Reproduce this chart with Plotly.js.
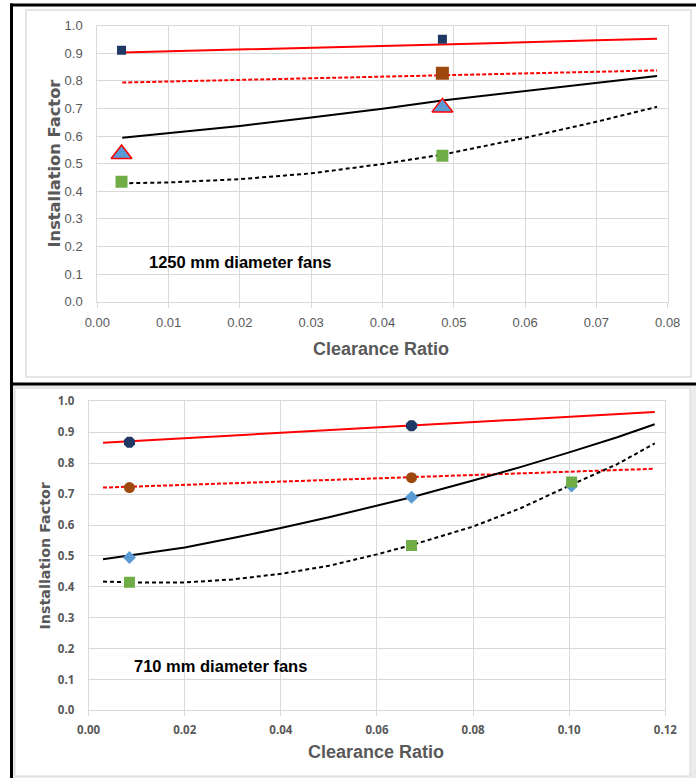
<!DOCTYPE html>
<html>
<head>
<meta charset="utf-8">
<script src="https://cdn.plot.ly/plotly-3.0.1.min.js"></script>
<style>
  html, body { margin: 0; padding: 0; background: #ffffff; }
  #chart { width: 696px; height: 778px; }
</style>
</head>
<body>
<div id="chart"></div>
<script>
// ---------------- DATA: 1250 mm diameter fans (top panel) ----------------
const topFitX        = [0.0035, 0.01, 0.02, 0.03, 0.04, 0.0484, 0.06, 0.07, 0.0785];
const topRedSolid    = [0.903, 0.907, 0.914, 0.920, 0.927, 0.933, 0.940, 0.947, 0.953];
const topRedDashed   = [0.794, 0.798, 0.804, 0.810, 0.816, 0.821, 0.827, 0.833, 0.838];
const topBlackSolid  = [0.594, 0.611, 0.637, 0.667, 0.699, 0.729, 0.763, 0.793, 0.818];
const topBlackDashed = [0.429, 0.432, 0.444, 0.465, 0.499, 0.533, 0.594, 0.652, 0.706];

const topNavyX  = [0.0034, 0.0484];  const topNavyY  = [0.911, 0.951];
const topBrownX = [0.0484];          const topBrownY = [0.8275];
const topBlueX  = [0.0034, 0.0484];  const topBlueY  = [0.535, 0.704];
const topGreenX = [0.0034, 0.0484];  const topGreenY = [0.435, 0.529];

// ---------------- DATA: 710 mm diameter fans (bottom panel) ----------------
const botFitX        = [0.003, 0.01, 0.02, 0.03, 0.04, 0.05, 0.06, 0.0672, 0.08, 0.09, 0.10, 0.11, 0.1178];
const botRedSolid    = [0.866, 0.872, 0.881, 0.889, 0.898, 0.907, 0.915, 0.922, 0.933, 0.941, 0.950, 0.959, 0.966];
const botRedDashed   = [0.721, 0.725, 0.730, 0.735, 0.741, 0.746, 0.751, 0.755, 0.762, 0.767, 0.772, 0.778, 0.782];
const botBlackSolid  = [0.489, 0.504, 0.527, 0.558, 0.590, 0.625, 0.663, 0.690, 0.744, 0.788, 0.835, 0.884, 0.926];
const botBlackDashed = [0.417, 0.414, 0.414, 0.424, 0.442, 0.468, 0.505, 0.535, 0.595, 0.655, 0.727, 0.797, 0.864];

const botNavyX  = [0.0085, 0.0672];          const botNavyY  = [0.868, 0.921];
const botBrownX = [0.0085, 0.0672];          const botBrownY = [0.721, 0.753];
const botBlueX  = [0.0085, 0.0672, 0.1005];  const botBlueY  = [0.495, 0.690, 0.726];
const botGreenX = [0.0085, 0.0672, 0.1005];  const botGreenY = [0.4145, 0.534, 0.739];

const topXTicks = [0, 0.01, 0.02, 0.03, 0.04, 0.05, 0.06, 0.07, 0.08];
const botXTicks = [0, 0.02, 0.04, 0.06, 0.08, 0.10, 0.12];
const yTicks    = [0, 0.1, 0.2, 0.3, 0.4, 0.5, 0.6, 0.7, 0.8, 0.9, 1.0];

const topLabel = '1250 mm diameter fans';
const botLabel = '710 mm diameter fans';
const xTitle = 'Clearance Ratio';
const yTitle = 'Installation Factor';

// ---------------- LAYOUT HELPERS ----------------
const W = 696, H = 778;
const px = v => v / W;
const py = v => 1 - v / H;

const NAVY = '#203864', BROWN = '#9e480e', BLUE = '#5b9bd5', GREEN = '#70ad47';
const GRID = '#d9d9d9', TXT = '#595959';
const SANS = '"Liberation Sans", Arial, sans-serif';

function line(x, y, color, dash, xa, ya) {
  return {x: x, y: y, xaxis: xa, yaxis: ya, mode: 'lines', type: 'scatter',
          line: {color: color, width: 2, dash: dash}, hoverinfo: 'skip', showlegend: false};
}
function pts(x, y, symbol, size, color, lineColor, lineWidth, xa, ya) {
  return {x: x, y: y, xaxis: xa, yaxis: ya, mode: 'markers', type: 'scatter',
          marker: {symbol: symbol, size: size, color: color,
                   line: {color: lineColor || color, width: lineWidth || 0}},
          showlegend: false};
}

const data = [
  line(topFitX, topRedSolid, '#ff0000', 'solid', 'x', 'y'),
  line(topFitX, topRedDashed, '#ff0000', '4px,2px', 'x', 'y'),
  line(topFitX, topBlackSolid, '#000000', 'solid', 'x', 'y'),
  line(topFitX, topBlackDashed, '#000000', '4px,3px', 'x', 'y'),
  pts(topNavyX, topNavyY, 'square', 9, NAVY, null, 0, 'x', 'y'),
  pts(topBrownX, topBrownY, 'square', 13, BROWN, BROWN, 0, 'x', 'y'),
  pts(topBlueX, topBlueY, 'triangle-up', 18, BLUE, '#ff0000', 1.5, 'x', 'y'),
  pts(topGreenX, topGreenY, 'square', 12, GREEN, null, 0, 'x', 'y'),

  line(botFitX, botRedSolid, '#ff0000', 'solid', 'x2', 'y2'),
  line(botFitX, botRedDashed, '#ff0000', '4px,2px', 'x2', 'y2'),
  line(botFitX, botBlackSolid, '#000000', 'solid', 'x2', 'y2'),
  line(botFitX, botBlackDashed, '#000000', '4px,3px', 'x2', 'y2'),
  pts(botNavyX, botNavyY, 'octagon', 12, NAVY, null, 0, 'x2', 'y2'),
  pts(botBrownX, botBrownY, 'circle', 11, BROWN, null, 0, 'x2', 'y2'),
  pts(botBlueX, botBlueY, 'diamond', 10, BLUE, null, 0, 'x2', 'y2'),
  pts(botGreenX, botGreenY, 'square', 11, GREEN, null, 0, 'x2', 'y2')
];

function xAxis(domain, range, ticks, font, anchor, standoff) {
  return {domain: domain, range: range, anchor: anchor, tickvals: ticks, tickformat: '.2f',
          showgrid: true, gridcolor: GRID, gridwidth: 1, zeroline: false,
          showline: true, linecolor: GRID, linewidth: 1, mirror: true,
          ticks: 'outside', ticklen: 5, tickcolor: GRID, tickwidth: 1,
          ticklabelstandoff: standoff, tickfont: font, fixedrange: true};
}
function yAxis(domain, font, anchor) {
  return {domain: domain, range: [0, 1], anchor: anchor, tickvals: yTicks, tickformat: '.1f',
          showgrid: true, gridcolor: GRID, gridwidth: 1, zeroline: false,
          showline: true, linecolor: GRID, linewidth: 1, mirror: true,
          ticks: '', ticklabelstandoff: 11, tickfont: font, fixedrange: true};
}

const topTickFont = {family: SANS, size: 13, color: TXT};
const botTickFont = {family: '"Open Sans", sans-serif', size: 11.5, color: TXT, weight: 'bold'};

const layout = {
  width: W, height: H,
  margin: {l: 0, r: 0, t: 0, b: 0, pad: 0},
  paper_bgcolor: '#ffffff', plot_bgcolor: 'rgba(0,0,0,0)',
  showlegend: false,
  xaxis:  xAxis([px(97.3), px(667.7)], [0, 0.08], topXTicks, topTickFont, 'y', 4),
  yaxis:  yAxis([py(301.7), py(25.7)], topTickFont, 'x'),
  xaxis2: xAxis([px(88.6), px(665.3)], [0, 0.12], botXTicks, botTickFont, 'y2', 4),
  yaxis2: yAxis([py(710.4), py(401.4)], botTickFont, 'x2'),
  shapes: [
    {type: 'rect', xref: 'paper', yref: 'paper', x0: px(11), x1: px(696), y0: py(384), y1: py(778),
     fillcolor: '#ebebeb', line: {width: 0}, layer: 'below'},
    {type: 'rect', xref: 'paper', yref: 'paper', x0: px(15), x1: px(690), y0: py(388), y1: py(776),
     fillcolor: '#ffffff', line: {color: '#d9d9d9', width: 1}, layer: 'below'},
    {type: 'rect', xref: 'paper', yref: 'paper', x0: px(26), x1: px(691), y0: py(10), y1: py(377),
     fillcolor: '#ffffff', line: {color: '#dddddd', width: 1.5}, layer: 'below'},
    {type: 'line', xref: 'paper', yref: 'paper', x0: px(10), x1: px(696), y0: py(5), y1: py(5),
     line: {color: '#000000', width: 3}},
    {type: 'line', xref: 'paper', yref: 'paper', x0: px(11.5), x1: px(11.5), y0: py(3.5), y1: py(778),
     line: {color: '#000000', width: 3}},
    {type: 'line', xref: 'paper', yref: 'paper', x0: px(10), x1: px(696), y0: py(384), y1: py(384),
     line: {color: '#000000', width: 3}}
  ],
  annotations: [
    {text: topLabel, xref: 'paper', yref: 'paper', x: px(147), y: py(262), xanchor: 'left', yanchor: 'middle',
     showarrow: false, font: {family: SANS, size: 16.5, color: '#000000', weight: 'bold'}},
    {text: botLabel, xref: 'paper', yref: 'paper', x: px(132), y: py(666), xanchor: 'left', yanchor: 'middle',
     showarrow: false, font: {family: SANS, size: 16.5, color: '#000000', weight: 'bold'}},
    {text: xTitle, xref: 'paper', yref: 'paper', x: px(381), y: py(349), xanchor: 'center', yanchor: 'middle',
     showarrow: false, font: {family: SANS, size: 18, color: TXT, weight: 'bold'}},
    {text: xTitle, xref: 'paper', yref: 'paper', x: px(376), y: py(752), xanchor: 'center', yanchor: 'middle',
     showarrow: false, font: {family: SANS, size: 18, color: TXT, weight: 'bold'}},
    {text: yTitle, xref: 'paper', yref: 'paper', x: px(54), y: py(163.5), xanchor: 'center', yanchor: 'middle',
     textangle: -90, showarrow: false, font: {family: '"DejaVu Sans", sans-serif', size: 16.3, color: TXT, weight: 'bold'}},
    {text: yTitle, xref: 'paper', yref: 'paper', x: px(44.5), y: py(556), xanchor: 'center', yanchor: 'middle',
     textangle: -90, showarrow: false, font: {family: '"DejaVu Sans", sans-serif', size: 14.3, color: TXT, weight: 'bold'}}
  ]
};

Plotly.newPlot('chart', data, layout, {displayModeBar: false, staticPlot: true});
</script>
</body>
</html>
